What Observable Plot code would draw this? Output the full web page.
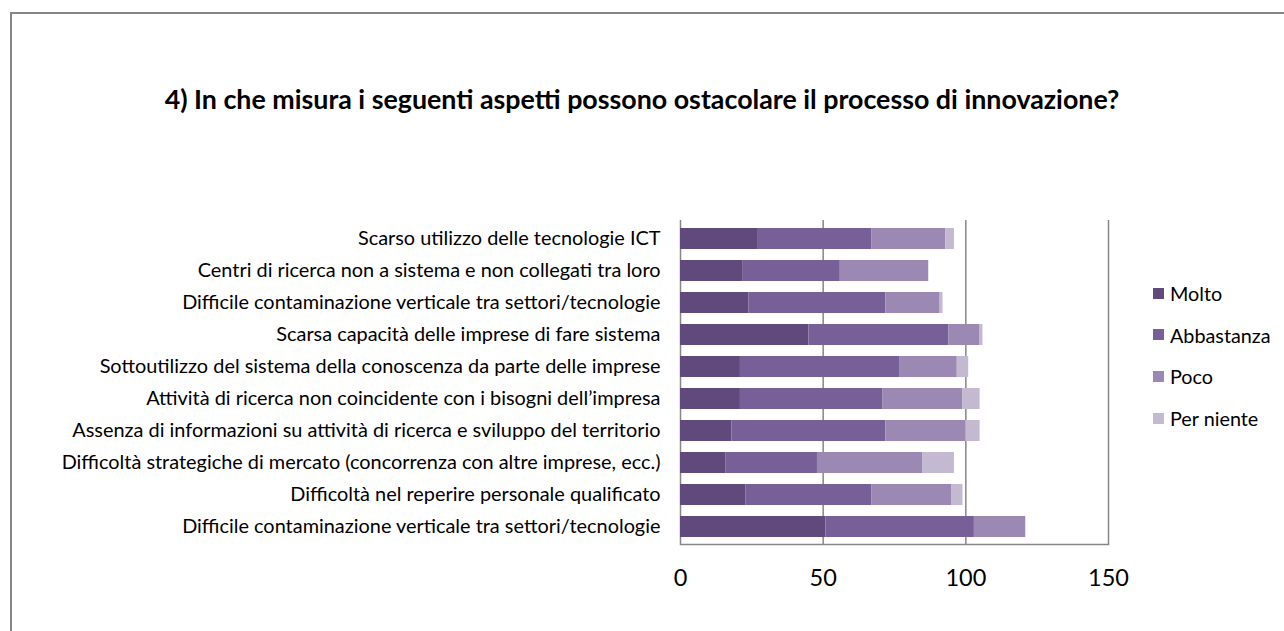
<!DOCTYPE html>
<html>
<head>
<meta charset="utf-8">
<script src="https://cdn.jsdelivr.net/npm/d3@7"></script>
<script src="https://cdn.jsdelivr.net/npm/@observablehq/plot@0.6"></script>
<style>
  html, body { margin: 0; padding: 0; background: #fff; }
  #page { position: relative; width: 1284px; height: 631px; overflow: hidden; background: #fff; font-family: Lato, "Open Sans", sans-serif; }
  #frame { position: absolute; left: 10px; top: 12px; width: 1300px; height: 700px; border: 2px solid #868686; box-sizing: border-box; }
  #title { position: absolute; left: 0; top: 83px; width: 1284px; text-align: center; font-weight: bold; font-size: 26.8px; color: #000; }
  #chart { position: absolute; left: 0; top: 0; }
  #legend { position: absolute; left: 1153px; top: 281px; font-size: 19.8px; color: #000; }
  .li { position: absolute; left: 0; white-space: nowrap; display: flex; align-items: center; }
  .sw { width: 11px; height: 11px; margin-right: 6px; display: inline-block; }
</style>
</head>
<body>
<div id="page">
  <div id="frame"></div>
  <div id="chart"></div>
  <div id="title">4) In che misura i seguenti aspetti possono ostacolare il processo di innovazione?</div>
  <div id="legend"></div>
</div>
<script>
const categories = [
  "Scarso utilizzo delle tecnologie ICT",
  "Centri di ricerca non a sistema e non collegati tra loro",
  "Difficile contaminazione verticale tra settori/tecnologie",
  "Scarsa capacità delle imprese di fare sistema",
  "Sottoutilizzo del sistema della conoscenza da parte delle imprese",
  "Attività di ricerca non coincidente con i bisogni dell’impresa",
  "Assenza di informazioni su attività di ricerca e sviluppo del territorio",
  "Difficoltà strategiche di mercato (concorrenza con altre imprese, ecc.)",
  "Difficoltà nel reperire personale qualificato",
  "Difficile contaminazione verticale tra settori/tecnologie"
];
const seriesNames = ["Molto", "Abbastanza", "Poco", "Per niente"];
const molto      = [27, 22, 24, 45, 21, 21, 18, 16, 23, 51];
const abbastanza = [40, 34, 48, 49, 56, 50, 54, 32, 44, 52];
const poco       = [26, 31, 19, 11, 20, 28, 28, 37, 28, 18];
const perNiente  = [3, 0, 1, 1, 4, 6, 5, 11, 4, 0];
const xTicks = [0, 50, 100, 150];
const colors = ["#604a7b", "#775f98", "#9b89b3", "#c3b9d1"];

const seriesValues = [molto, abbastanza, poco, perNiente];
const data = [];
categories.forEach((c, i) => {
  seriesNames.forEach((s, k) => {
    data.push({ idx: i, label: c, series: s, value: seriesValues[k][i] });
  });
});

const plot = Plot.plot({
  width: 1284,
  height: 631,
  marginLeft: 680,
  marginRight: 176,
  marginTop: 220,
  marginBottom: 87,
  style: { fontFamily: "Lato, 'Open Sans', sans-serif", background: "transparent", overflow: "visible" },
  x: { domain: [0, 150], ticks: xTicks },
  y: { domain: d3.range(categories.length), paddingInner: 0.35, paddingOuter: 0.2 },
  color: { domain: seriesNames, range: colors },
  marks: [
    Plot.ruleX(xTicks, { stroke: "#868686", strokeWidth: 1.5, strokeOpacity: 1 }),
    Plot.barX(data, Plot.stackX({ y: "idx", x: "value", fill: "series", order: seriesNames })),
    Plot.frame({ anchor: "bottom", stroke: "#868686", strokeWidth: 1.5 }),
    Plot.axisX({ ticks: xTicks, tickSize: 0, tickPadding: 25, fontSize: 23.5, fill: "#000", label: null }),
    Plot.axisY({ tickSize: 0, tickPadding: 20, fontSize: 19.9, fill: "#000", label: null, tickFormat: i => categories[i] })
  ]
});
document.getElementById("chart").appendChild(plot);

const legend = document.getElementById("legend");
seriesNames.forEach((s, k) => {
  const row = document.createElement("div");
  row.className = "li";
  row.style.top = (k * 41.7) + "px";
  row.innerHTML = `<span class="sw" style="background:${colors[k]}"></span><span>${s}</span>`;
  legend.appendChild(row);
});
</script>
</body>
</html>
